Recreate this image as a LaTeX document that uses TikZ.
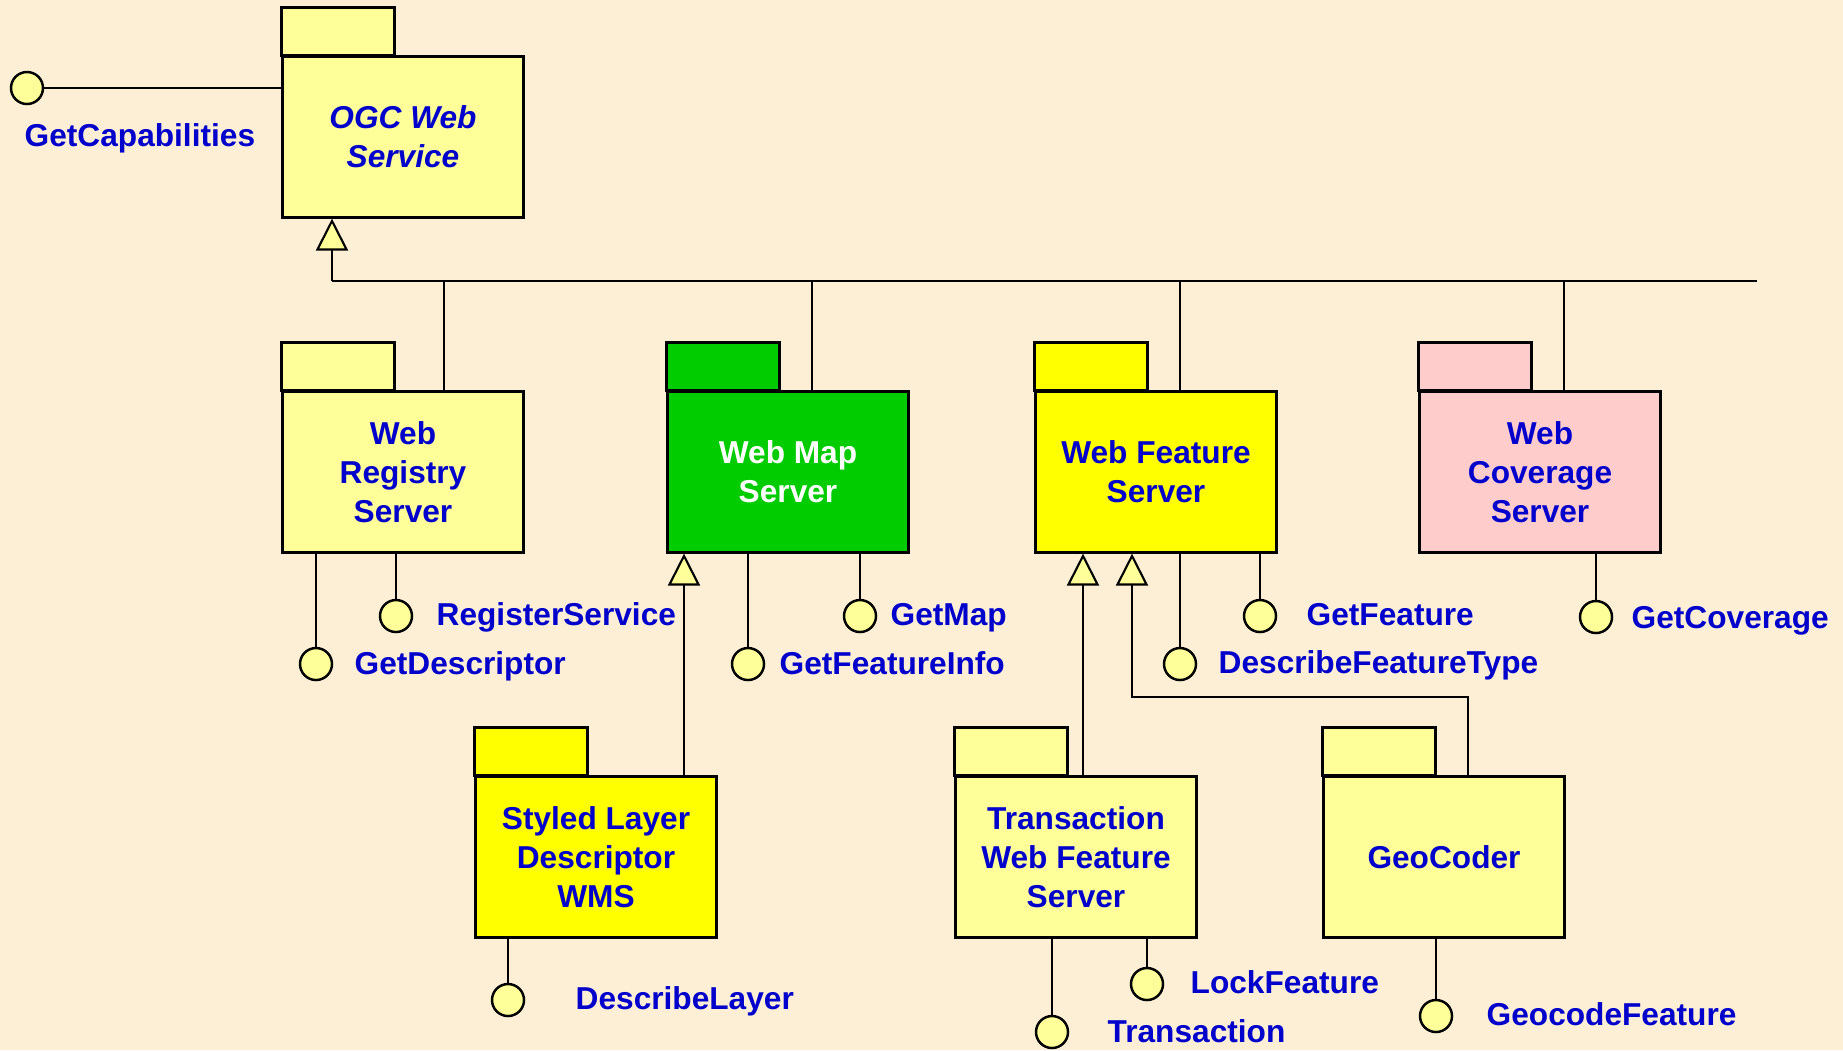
\documentclass[tikz,border=0pt]{standalone}
\usepackage{xcolor}
\usepackage{fontspec}
\setmainfont{Liberation Sans}
\usetikzlibrary{arrows.meta}

\definecolor{parchment}{RGB}{252,239,213}
\definecolor{pkgyellow}{RGB}{255,255,153}
\definecolor{mapgreen}{RGB}{0,204,0}
\definecolor{featyellow}{RGB}{255,255,0}
\definecolor{covpink}{RGB}{255,204,204}
\definecolor{opblue}{RGB}{0,0,204}

\newcommand{\opfont}{\fontsize{9}{11}\selectfont\bfseries}

\tikzset{
	pkg/.style={draw, line width=0.85pt, minimum width=2.4cm, minimum height=1.6cm, inner sep=0pt, align=center, font=\opfont, text=opblue},
	ball/.style={circle, draw, line width=0.7pt, fill=pkgyellow, minimum size=0.32cm, inner sep=0pt},
	opname/.style={anchor=base west, inner sep=0pt, font=\opfont, text=opblue},
	link/.style={line width=0.6pt},
	gen/.style={link, -{Triangle[length=0.32cm, width=0.32cm, fill=pkgyellow]}}
}

\begin{document}
\begin{tikzpicture}[x=0.01cm, y=-0.01cm]

	\useasboundingbox (0,0) rectangle (1843,1050);
	\fill[parchment] (0,0) rectangle (1843,1050);

	\node[pkg, fill=pkgyellow, minimum height=1.6cm, font=\opfont\itshape] (ogc) at (403,137) {OGC Web\\Service};
	\node[pkg, fill=pkgyellow] (wrs) at (403,472) {Web\\Registry\\Server};
	\node[pkg, fill=mapgreen, text=white] (wms) at (788,472) {Web Map\\Server};
	\node[pkg, fill=featyellow] (wfs) at (1156,472) {Web Feature\\Server};
	\node[pkg, fill=covpink] (wcs) at (1540,472) {Web\\Coverage\\Server};
	\node[pkg, fill=featyellow] (sld) at (596,857) {Styled Layer\\Descriptor\\WMS};
	\node[pkg, fill=pkgyellow] (twfs) at (1076,857) {Transaction\\Web Feature\\Server};
	\node[pkg, fill=pkgyellow] (geo) at (1444,857) {GeoCoder};

	\foreach \p/\c in {ogc/pkgyellow, wrs/pkgyellow, wms/mapgreen, wfs/featyellow, wcs/covpink, sld/featyellow, twfs/pkgyellow, geo/pkgyellow}
		\draw[line width=0.85pt, fill=\c] (\p.north west) rectangle +(113,-48);

	\node[ball] (getcap) at (27,88) {};
	\node[opname] (getcap-lbl) at (24,146) {GetCapabilities};
	\draw[link] (getcap) -- (getcap -| ogc.west);

	\foreach \n/\x/\y/\p/\lx/\ly/\t in {
		getdesc/316/664/wrs/354/674/GetDescriptor,
		regserv/396/616/wrs/436/625/RegisterService,
		getfinfo/748/664/wms/779/674/GetFeatureInfo,
		getmap/860/616/wms/890/625/GetMap,
		descft/1180/664/wfs/1218/673/DescribeFeatureType,
		getfeat/1260/616/wfs/1306/625/GetFeature,
		getcov/1596/617/wcs/1631/628/GetCoverage,
		desclayer/508/1000/sld/575/1009/DescribeLayer,
		trans/1052/1032/twfs/1107/1042/Transaction,
		lockfeat/1147/984/twfs/1190/993/LockFeature,
		geofeat/1436/1016/geo/1486/1025/GeocodeFeature}
	{
		\node[ball] (\n) at (\x,\y) {};
		\node[opname] (\n-lbl) at (\lx,\ly) {\t};
		\draw[link] (\n) -- (\n |- \p.south);
	}

	\coordinate (busw) at (332,281);
	\coordinate (buse) at (1757,281);
	\draw[gen] (busw) -- (busw |- ogc.south);
	\draw[link] (busw) -- (buse);
	\foreach \p/\x in {wrs/444, wms/812, wfs/1180, wcs/1564}
		\draw[link] (\x,0 |- \p.north) -- (\x,0 |- busw);

	\draw[gen] (684,0 |- sld.north) -- (684,0 |- wms.south);
	\draw[gen] (1083,0 |- twfs.north) -- (1083,0 |- wfs.south);
	\draw[gen] (1468,0 |- geo.north) -- (1468,697) -| (1132,0 |- wfs.south);

\end{tikzpicture}
\end{document}
